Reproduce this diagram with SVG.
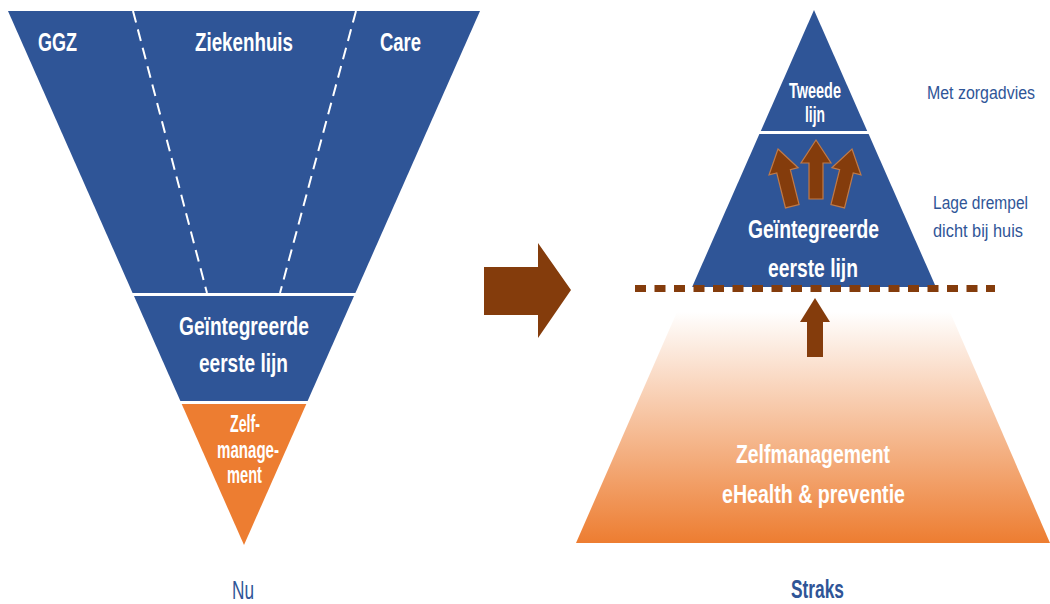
<svg xmlns="http://www.w3.org/2000/svg" width="1050" height="604" viewBox="0 0 1050 604">
<defs>
<linearGradient id="og" x1="0" y1="0" x2="0" y2="1">
<stop offset="0" stop-color="#FFFFFF"/>
<stop offset="0.05" stop-color="#FEF8F4"/>
<stop offset="1" stop-color="#ED7D31"/>
</linearGradient>
<style>
.blue{fill:#2F5597}
.orange{fill:#ED7D31}
.brown{fill:#843C0C}
.sarrow{fill:#843C0C;stroke:#C07A48;stroke-width:1.2}
.w{fill:#FFFFFF;font-family:"Liberation Sans",Arial,sans-serif;font-weight:bold;text-anchor:middle}
.b{fill:#2F5597;font-family:"Liberation Sans",Arial,sans-serif}
.dash{stroke:#FFFFFF;stroke-width:2;stroke-dasharray:12 7;fill:none}
</style>
</defs>
<rect width="1050" height="604" fill="#FFFFFF"/>

<g id="left-top">
<polygon class="blue" points="8,11 480,11 355.4,293 132.6,293"/>
<text class="w" x="57.5" y="51" font-size="26" textLength="39" lengthAdjust="spacingAndGlyphs">GGZ</text>
<text class="w" x="244" y="51" font-size="26" textLength="98" lengthAdjust="spacingAndGlyphs">Ziekenhuis</text>
<text class="w" x="400.5" y="51" font-size="26" textLength="41" lengthAdjust="spacingAndGlyphs">Care</text>
</g>
<g id="left-dividers">
<line class="dash" x1="133" y1="11" x2="207" y2="293"/>
<line class="dash" x1="356" y1="11" x2="280" y2="293"/>
</g>
<g id="left-middle">
<polygon class="blue" points="134,296 354,296 307.6,401 180.4,401"/>
<text class="w" x="244" y="335" font-size="25" textLength="130" lengthAdjust="spacingAndGlyphs">Geïntegreerde</text>
<text class="w" x="243.5" y="372" font-size="25" textLength="89" lengthAdjust="spacingAndGlyphs">eerste lijn</text>
</g>
<g id="left-bottom">
<polygon class="orange" points="181.7,404 306.3,404 244,545"/>
<text class="w" x="245" y="432" font-size="23" textLength="30" lengthAdjust="spacingAndGlyphs">Zelf-</text>
<text class="w" x="248" y="458" font-size="23" textLength="62" lengthAdjust="spacingAndGlyphs">manage-</text>
<text class="w" x="244.5" y="483" font-size="23" textLength="35" lengthAdjust="spacingAndGlyphs">ment</text>
</g>
<g id="label-nu">
<text class="b" x="243" y="599" font-size="26" text-anchor="middle" textLength="22" lengthAdjust="spacingAndGlyphs">Nu</text>
</g>

<g id="right-bottom">
<polygon fill="url(#og)" points="677,312 950,312 1050,543 576,543"/>
<text class="w" x="813" y="463" font-size="25" textLength="154" lengthAdjust="spacingAndGlyphs">Zelfmanagement</text>
<text class="w" x="813.5" y="503" font-size="25" textLength="183" lengthAdjust="spacingAndGlyphs">eHealth &amp; preventie</text>
</g>
<g id="right-top">
<polygon class="blue" points="814,10 867.2,131 760.8,131"/>
<text class="w" x="815" y="98" font-size="22" textLength="52" lengthAdjust="spacingAndGlyphs">Tweede</text>
<text class="w" x="815" y="122" font-size="22" textLength="20" lengthAdjust="spacingAndGlyphs">lijn</text>
</g>
<g id="right-middle">
<polygon class="blue" points="759.4,134 868.6,134 935.9,287 692.1,287"/>
<path class="sarrow" transform="translate(816,140)" d="M0,0 L15,23 L7,23 L7,59 L-7,59 L-7,23 L-15,23 Z"/>
<path class="sarrow" transform="translate(778,149) rotate(-14)" d="M0,0 L15,23 L7,23 L7,59 L-7,59 L-7,23 L-15,23 Z"/>
<path class="sarrow" transform="translate(852,149) rotate(14)" d="M0,0 L15,23 L7,23 L7,59 L-7,59 L-7,23 L-15,23 Z"/>
<text class="w" x="813.5" y="238" font-size="25" textLength="131" lengthAdjust="spacingAndGlyphs">Geïntegreerde</text>
<text class="w" x="813" y="277" font-size="25" textLength="90" lengthAdjust="spacingAndGlyphs">eerste lijn</text>
</g>
<g id="threshold">
<line x1="635" y1="288.5" x2="995" y2="288.5" stroke="#843C0C" stroke-width="7" stroke-dasharray="11 8.5"/>
</g>
<g id="connectors">
<polygon class="brown" points="484,267 538,267 538,243 571,290 538,338 538,315 484,315"/>
<path class="brown" d="M815,298 L830,322 L823,322 L823,357 L807,357 L807,322 L800,322 Z"/>
</g>
<g id="side-labels">
<text class="b" x="927" y="99" font-size="17.5" textLength="108" lengthAdjust="spacingAndGlyphs">Met zorgadvies</text>
<text class="b" x="933" y="209" font-size="17.5" textLength="95" lengthAdjust="spacingAndGlyphs">Lage drempel</text>
<text class="b" x="933" y="237" font-size="17.5" textLength="90" lengthAdjust="spacingAndGlyphs">dicht bij huis</text>
</g>
<g id="label-straks">
<text class="b" x="817.5" y="598" font-size="26" font-weight="bold" text-anchor="middle" textLength="53" lengthAdjust="spacingAndGlyphs">Straks</text>
</g>
</svg>
